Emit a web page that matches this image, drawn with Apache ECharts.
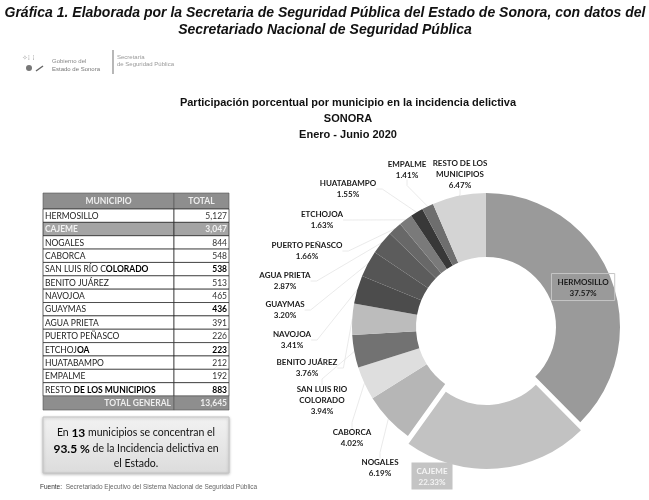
<!DOCTYPE html>
<html>
<head>
<meta charset="utf-8">
<script src="https://cdn.jsdelivr.net/npm/echarts@6/dist/echarts.min.js"></script>
<style>html,body{margin:0;padding:0;background:#fff;}#c{width:649px;height:500px;}</style>
</head>
<body>
<div id="c"></div>
<script>
// ---- Data ----
const municipios = ['HERMOSILLO','CAJEME','NOGALES','CABORCA','SAN LUIS RÍO COLORADO','BENITO JUÁREZ','NAVOJOA','GUAYMAS','AGUA PRIETA','PUERTO PEÑASCO','ETCHOJOA','HUATABAMPO','EMPALME','RESTO DE LOS MUNICIPIOS'];
const totales = [5127,3047,844,548,538,513,465,436,391,226,223,212,192,883];
const totalGeneral = 13645;
const etiquetasPie = ['HERMOSILLO','CAJEME','NOGALES','CABORCA','SAN LUIS RIO\nCOLORADO','BENITO JUÁREZ','NAVOJOA','GUAYMAS','AGUA PRIETA','PUERTO PEÑASCO','ETCHOJOA','HUATABAMPO','EMPALME','RESTO DE LOS\nMUNICIPIOS'];
const municipiosConcentran = 13;
const porcentajeConcentran = '93.5';

// ---- Styles / layout (not data) ----
const sliceColors = ['#9a9a9a','#c2c2c2','#b6b6b6','#dedede','#727272','#bcbcbc','#4c4c4c','#555555','#5c5c5c','#686868','#7a7a7a','#383838','#6e6e6e','#d4d4d4'];
const CX = 486, CY = 327;
const EXPLODE_INDEX = 1, EXPLODE_DIST = 8;
// label centre offsets from the donut centre
const labelOffsets = [null,[-54,149],[-106,141],[-134,111],[-164,73],[-179,41],[-194,13],[-201,-17],[-201,-46],[-179,-76],[-164,-107],[-138,-138],[-79,-157],[-26,-153]];
// table style hints
const boldValueRows = [4,7,10,13];
const boldNameSplit = {4:14, 10:6, 13:6};

function fmt(n){return n.toLocaleString('en-US');}
function pct(v){return (v/totalGeneral*100).toFixed(2)+'%';}

const chart = echarts.init(document.getElementById('c'), null, {renderer:'canvas'});

// measure title to fit width
const cv = document.createElement('canvas').getContext('2d');
const titleFont = 'italic bold 15px "Liberation Sans", Arial, sans-serif';
cv.font = titleFont;
const t1 = 'Gráfica 1. Elaborada por la Secretaria de Seguridad Pública del Estado de Sonora, con datos del';
const t2 = 'Secretariado Nacional de Seguridad Pública';
const sx = 641 / cv.measureText(t1).width;

const graphics = [];
graphics.push({type:'text', x:325, y:13, scaleX:sx, style:{text:t1, font:titleFont, fill:'#111', align:'center', verticalAlign:'middle'}});
graphics.push({type:'text', x:325, y:30, scaleX:sx, style:{text:t2, font:titleFont, fill:'#111', align:'center', verticalAlign:'middle'}});

// logo
graphics.push({type:'text', x:22, y:55, style:{text:'✧⁞ ⁞', font:'7px "DejaVu Sans"', fill:'#aaa'}});
graphics.push({type:'circle', shape:{cx:29, cy:68, r:3}, style:{fill:'#777'}});
graphics.push({type:'line', shape:{x1:36, y1:71, x2:43, y2:66}, style:{stroke:'#666', lineWidth:1.5}});
graphics.push({type:'text', x:52, y:61, style:{text:'Gobierno del', font:'6px "Liberation Sans"', fill:'#888', verticalAlign:'middle'}});
graphics.push({type:'text', x:52, y:69, style:{text:'Estado de Sonora', font:'6px "Liberation Sans"', fill:'#777', verticalAlign:'middle'}});
graphics.push({type:'line', shape:{x1:113, y1:50, x2:113, y2:74}, style:{stroke:'#888', lineWidth:1.2}});
graphics.push({type:'text', x:117, y:57, style:{text:'Secretaría', font:'6px "Liberation Sans"', fill:'#999', verticalAlign:'middle'}});
graphics.push({type:'text', x:117, y:64, style:{text:'de Seguridad Pública', font:'6px "Liberation Sans"', fill:'#999', verticalAlign:'middle'}});

// chart titles
const ctFont = 'bold 11px "Liberation Sans", Arial, sans-serif';
graphics.push({type:'text', x:348, y:103, style:{text:'Participación porcentual por municipio en la incidencia delictiva', font:ctFont, fill:'#111', align:'center', verticalAlign:'middle'}});
graphics.push({type:'text', x:348, y:119, style:{text:'SONORA', font:ctFont, fill:'#111', align:'center', verticalAlign:'middle'}});
graphics.push({type:'text', x:348, y:135, style:{text:'Enero - Junio 2020', font:ctFont, fill:'#111', align:'center', verticalAlign:'middle'}});

// table
const TX = 43, TW1 = 131, TW2 = 55, TOP = 193, HH = 16, RH = 13.36;
const tFont = '8.5px Lato, "Noto Sans", sans-serif';
const tFontB = 'bold 8.5px Lato, "Noto Sans", sans-serif';
const gray = '#8e8e8e';
graphics.push({type:'rect', shape:{x:TX, y:TOP, width:TW1, height:HH}, style:{fill:gray, stroke:'#555', lineWidth:0.6}});
graphics.push({type:'rect', shape:{x:TX+TW1, y:TOP, width:TW2, height:HH}, style:{fill:gray, stroke:'#555', lineWidth:0.6}});
graphics.push({type:'text', x:TX+TW1/2, y:TOP+HH/2, style:{text:'MUNICIPIO', font:tFontB, fill:'#eee', align:'center', verticalAlign:'middle'}});
graphics.push({type:'text', x:TX+TW1+TW2/2, y:TOP+HH/2, style:{text:'TOTAL', font:tFontB, fill:'#eee', align:'center', verticalAlign:'middle'}});
municipios.forEach(function(m,i){
  const y = TOP+HH+i*RH;
  const hi = (i===1);
  const fill = hi ? '#a4a4a4' : '#fff';
  graphics.push({type:'rect', shape:{x:TX, y:y, width:TW1, height:RH}, style:{fill:fill, stroke:'#222', lineWidth:0.7}});
  graphics.push({type:'rect', shape:{x:TX+TW1, y:y, width:TW2, height:RH}, style:{fill:fill, stroke:'#222', lineWidth:0.7}});
  let nameStyle;
  if (boldNameSplit[i] !== undefined) {
    const k = boldNameSplit[i];
    nameStyle = {text:'{a|'+m.slice(0,k)+'}{b|'+m.slice(k)+'}', rich:{a:{font:tFont, fill:'#222'}, b:{font:tFontB, fill:'#000'}}};
  } else {
    nameStyle = {text:m, font:hi?tFontB:tFont, fill:hi?'#f2f2f2':'#222'};
  }
  nameStyle.verticalAlign = 'middle';
  graphics.push({type:'text', x:TX+2, y:y+RH/2+0.5, style:nameStyle});
  const bv = boldValueRows.indexOf(i) >= 0;
  graphics.push({type:'text', x:TX+TW1+TW2-2, y:y+RH/2+0.5, style:{text:fmt(totales[i]), font:(bv||hi)?tFontB:tFont, fill:hi?'#f2f2f2':(bv?'#000':'#333'), align:'right', verticalAlign:'middle'}});
});
const TY = TOP+HH+municipios.length*RH;
graphics.push({type:'rect', shape:{x:TX, y:TY, width:TW1, height:14}, style:{fill:gray, stroke:'#555', lineWidth:0.6}});
graphics.push({type:'rect', shape:{x:TX+TW1, y:TY, width:TW2, height:14}, style:{fill:gray, stroke:'#555', lineWidth:0.6}});
graphics.push({type:'text', x:TX+TW1-3, y:TY+7.5, style:{text:'TOTAL GENERAL', font:tFontB, fill:'#eee', align:'right', verticalAlign:'middle'}});
graphics.push({type:'text', x:TX+TW1+TW2-2, y:TY+7.5, style:{text:fmt(totalGeneral), font:tFontB, fill:'#eee', align:'right', verticalAlign:'middle'}});

// summary box
graphics.push({type:'rect', shape:{x:TX, y:417, width:TW1+TW2, height:56}, style:{fill:new echarts.graphic.LinearGradient(0,0,0,1,[{offset:0,color:'#f2f2f2'},{offset:1,color:'#dcdcdc'}]), stroke:'#c4c4c4', lineWidth:1, shadowBlur:3, shadowColor:'rgba(0,0,0,0.25)', shadowOffsetY:1}});
const bxF = '10.5px Lato, "Noto Sans", sans-serif';
const bxFB = 'bold 12px Lato, "Noto Sans", sans-serif';
const boxRich = {a:{font:bxF, fill:'#111'}, b:{font:bxFB, fill:'#000'}};
graphics.push({type:'text', x:TX+(TW1+TW2)/2, y:433, style:{text:'{a|En }{b|'+municipiosConcentran+'}{a| municipios se concentran el}', rich:boxRich, align:'center', verticalAlign:'middle'}});
graphics.push({type:'text', x:TX+(TW1+TW2)/2, y:449, style:{text:'{b|'+porcentajeConcentran+' %}{a| de la Incidencia delictiva en}', rich:boxRich, align:'center', verticalAlign:'middle'}});
graphics.push({type:'text', x:TX+(TW1+TW2)/2, y:464, style:{text:'{a|el Estado.}', rich:boxRich, align:'center', verticalAlign:'middle'}});

// footer
graphics.push({type:'text', x:40, y:487, style:{text:'{a|Fuente:  }{b|Secretariado Ejecutivo del Sistema Nacional de Seguridad Pública}', rich:{a:{font:'6.5px "Liberation Sans"', fill:'#333'}, b:{font:'6.5px "Liberation Sans"', fill:'#666'}}, verticalAlign:'middle'}});

// exploded slice offset direction (from its mid-angle)
let cum = 0;
for (let i = 0; i < EXPLODE_INDEX; i++) cum += totales[i];
const midA = (cum + totales[EXPLODE_INDEX]/2) / totalGeneral * 2 * Math.PI;
const exDX = EXPLODE_DIST * Math.sin(midA), exDY = -EXPLODE_DIST * Math.cos(midA);

const labFam = 'Lato, "Noto Sans", sans-serif';
const richStyles = {
  n:{fontFamily:labFam, fontSize:8, fontWeight:'bold', color:'#1a1a1a', lineHeight:11, align:'center'},
  w:{fontFamily:labFam, fontSize:8, fontWeight:'bold', color:'#f4f4f4', lineHeight:11, align:'center'}
};
const hidden = {color:'rgba(0,0,0,0)'};

const mainData = totales.map(function(v,i){
  const d = {value:v, name:municipios[i], itemStyle:{color:sliceColors[i]}};
  if (i===0) {
    d.label = {position:'inside', formatter:function(){return '{n|'+etiquetasPie[0]+'}\n{n|'+pct(v)+'}';},
      borderColor:'#c6c6c6', borderWidth:1, padding:[3,6,2,6]};
    d.labelLine = {show:false};
  }
  if (i===EXPLODE_INDEX) {
    d.itemStyle = hidden;
    d.label = {show:false};
    d.labelLine = {show:false};
  }
  return d;
});
const explodedData = totales.map(function(v,i){
  if (i===EXPLODE_INDEX) {
    return {value:v, name:municipios[i], itemStyle:{color:sliceColors[i]},
      label:{show:true, formatter:function(){return '{w|'+etiquetasPie[i]+'}\n{w|'+pct(v)+'}';}, backgroundColor:'#c4c4c4', padding:[3,5,2,5]}};
  }
  return {value:v, name:municipios[i], itemStyle:hidden, label:{show:false}, labelLine:{show:false}};
});

const common = {
  type:'pie', radius:[70, 134], startAngle:90, clockwise:true,
  avoidLabelOverlap:false, emphasis:{disabled:true}, silent:true,
  labelLine:{show:true, length:8, length2:6, smooth:false, lineStyle:{color:'#e4e4e4', width:0.8}}
};

chart.setOption({
  animation:false,
  graphic: graphics,
  series:[
    Object.assign({}, common, {
      center:[CX, CY],
      data:mainData,
      label:{
        show:true, position:'outside',
        fontFamily:labFam, fontSize:8, fontWeight:'bold', color:'#1a1a1a',
        formatter:function(p){return '{n|'+etiquetasPie[p.dataIndex].split('\n').join('}\n{n|')+'}\n{n|'+pct(p.value)+'}';},
        rich:richStyles
      },
      labelLayout:function(p){
        const o = labelOffsets[p.dataIndex];
        if (!o) return;
        return {x:CX+o[0], y:CY+o[1], align:'center', verticalAlign:'middle'};
      }
    }),
    Object.assign({}, common, {
      center:[CX+exDX, CY+exDY],
      data:explodedData,
      label:{show:false, position:'outside', fontFamily:labFam, fontSize:8, fontWeight:'bold', rich:richStyles},
      labelLayout:function(p){
        const o = labelOffsets[p.dataIndex];
        if (!o) return;
        return {x:CX+o[0], y:CY+o[1], align:'center', verticalAlign:'middle'};
      }
    })
  ]
});
</script>
</body>
</html>
